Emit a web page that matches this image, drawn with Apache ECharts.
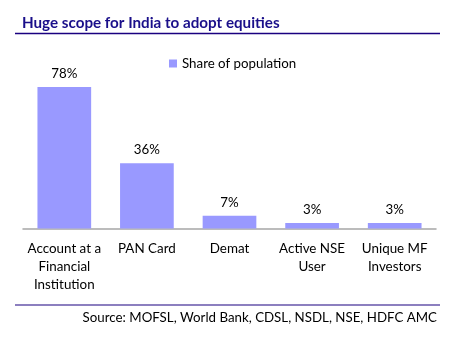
<!DOCTYPE html>
<html><head><meta charset="utf-8">
<script src="https://cdn.jsdelivr.net/npm/echarts@6/dist/echarts.min.js"></script>
<style>html,body{margin:0;padding:0;background:#fff}#c{width:450px;height:340px}</style>
</head><body><div id="c"></div>
<script>
const categories = ['Account at a\nFinancial\nInstitution', 'PAN Card', 'Demat', 'Active NSE\nUser', 'Unique MF\nInvestors'];
const shareOfPopulation = [78, 36, 7, 3, 3];
const seriesName = 'Share of population';
const titleText = 'Huge scope for India to adopt equities';
const sourceText = 'Source: MOFSL, World Bank, CDSL, NSDL, NSE, HDFC AMC';

const FONT = 'Lato';
const chart = echarts.init(document.getElementById('c'), null, {renderer: 'canvas'});
chart.setOption({
  animation: false,
  title: {
    text: titleText, left: 17, top: 11,
    textStyle: {fontFamily: FONT, fontSize: 15.2, fontWeight: 'bold', color: '#1a0f8a'}
  },
  legend: {
    data: [seriesName], left: 164, top: 52, itemWidth: 8, itemHeight: 8, itemGap: 4,
    icon: 'rect',
    textStyle: {fontFamily: FONT, fontSize: 13.3, color: '#000'}
  },
  grid: {left: 23, right: 14, top: 47, bottom: 111.5, containLabel: false},
  xAxis: {
    type: 'category', data: categories,
    axisLine: {lineStyle: {color: '#a6a6a6', width: 1.5}},
    axisTick: {show: false},
    axisLabel: {interval: 0, fontFamily: FONT, fontSize: 13.4, color: '#000', lineHeight: 18, margin: 11}
  },
  yAxis: {type: 'value', min: 0, max: 100, show: false, splitLine: {show: false}},
  series: [{
    name: seriesName, type: 'bar', data: shareOfPopulation, barCategoryGap: '35%',
    itemStyle: {color: '#9999ff'},
    label: {show: true, position: 'top', distance: 7, formatter: '{c}%', fontFamily: FONT, fontSize: 13.3, color: '#000'}
  }],
  graphic: [
    {type: 'line', shape: {x1: 15, y1: 33.5, x2: 440, y2: 33.5}, style: {stroke: '#1a0080', lineWidth: 1.5}},
    {type: 'line', shape: {x1: 15, y1: 305, x2: 440, y2: 305}, style: {stroke: '#1a0080', lineWidth: 1.2}},
    {type: 'text', right: 13, top: 311, style: {text: sourceText, fontFamily: FONT, fontSize: 13.3, fill: '#000'}}
  ]
});
</script></body></html>
